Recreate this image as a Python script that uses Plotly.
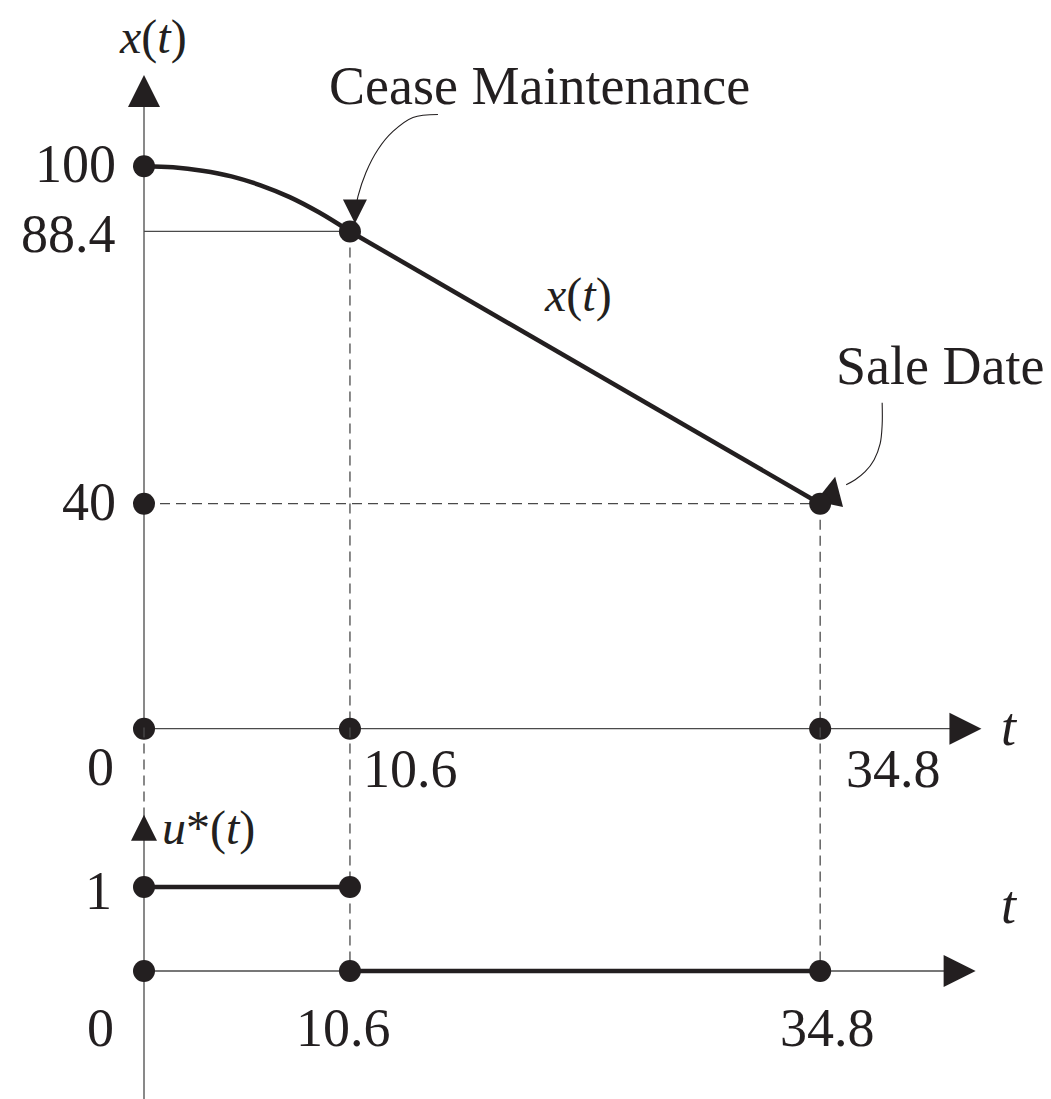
import plotly.graph_objects as go

# ------------------------------------------------------------------ data
T_STOP = 10.6          # cease maintenance
T_SALE = 34.8          # sale date
X0 = 100               # initial value
X_STOP = 88.4          # value when maintenance ceases
X_SALE = 40            # value at sale date

curve_t = [0, 1.5, 3, 4.5, 6, 7.5, 9, 10.6]
curve_x = [100, 99.8, 99.2, 98.2, 96.6, 94.5, 91.8, 88.4]
decline_t = [10.6, 34.8]
decline_x = [88.4, 40]

u_on_t = [0, 10.6]
u_on = [1, 1]
u_off_t = [10.6, 34.8]
u_off = [0, 0]

xdot_t = [0, 10.6, 34.8, 0, 0, 10.6, 34.8]
xdot_v = [100, 88.4, 40, 40, 0, 0, 0]
udot_t = [0, 10.6, 0, 10.6, 34.8]
udot_v = [1, 1, 0, 0, 0]

x_tick_vals = [100, 88.4, 40]
x_tick_text = ["100", "88.4", "40"]
t_tick_vals = [0, 10.6, 34.8]
t_tick_text = ["0", "10.6", "34.8"]
u_tick_vals = [1, 0]
u_tick_text = ["1", "0"]

# ------------------------------------------------------------------ geometry / style
W, H = 1051, 1099
PX_T = 19.43          # px per unit t
PX_X = 5.625          # px per unit x
PX_U = 84.0           # px per unit u
T0_PX = 144           # px of t = 0
X0_PX = 728.7         # px (from top) of x = 0
U0_PX = 971           # px (from top) of u = 0

T_AXIS_END = 43.1
T_AXIS2_END = 42.8
X_AXIS_TOP = 116.2
U_PANEL_TOP = 2.9
U_ARROW_TIP = 1.86
U_ARROW_BASE = 1.6
U_AXIS_BOTTOM = -1.7

INK = "#231f20"
AXC = "#4a4a4a"
FONT = "Liberation Serif"
FS = 54


def dt(px):
    return px / PX_T


def dx(py):
    return -py / PX_X


fig = go.Figure()


def line(x, y, yaxis="y", width=1.3, color=AXC, dash=None, shape="linear"):
    fig.add_trace(go.Scatter(x=x, y=y, yaxis=yaxis, mode="lines",
                             line=dict(width=width, color=color, dash=dash, shape=shape),
                             hoverinfo="skip", showlegend=False))


def marks(x, y, yaxis="y", symbol="circle", size=22, angle=0):
    fig.add_trace(go.Scatter(x=x, y=y, yaxis=yaxis, mode="markers",
                             marker=dict(symbol=symbol, size=size, color=INK, angle=angle,
                                         line=dict(width=0)),
                             hoverinfo="skip", showlegend=False))


# --- top panel axes
line([0, 0], [X_AXIS_TOP - 3, 0])
line([0, T_AXIS_END - 1], [0, 0])
marks([0], [X_AXIS_TOP], symbol="arrow-up", size=32)
marks([T_AXIS_END], [0], symbol="arrow-right", size=32)

# guide lines
line([0, T_STOP], [X_STOP, X_STOP])
line([0, T_SALE], [X_SALE, X_SALE], dash="10px,6px")
line([T_STOP, T_STOP], [X_STOP, 0], dash="10px,6px")
line([T_SALE, T_SALE], [X_SALE, 0], dash="10px,6px")
line([T_STOP, T_STOP], [U_PANEL_TOP, 0], yaxis="y2", dash="10px,6px")
line([T_SALE, T_SALE], [U_PANEL_TOP, 0], yaxis="y2", dash="10px,6px")

# bottom panel axes
line([0, 0], [U_PANEL_TOP, U_ARROW_BASE], yaxis="y2", dash="10px,6px")
line([0, 0], [U_ARROW_BASE, U_AXIS_BOTTOM], yaxis="y2")
line([0, T_AXIS2_END - 1], [0, 0], yaxis="y2")
marks([0], [U_ARROW_TIP], yaxis="y2", symbol="arrow-up", size=26)
marks([T_AXIS2_END], [0], yaxis="y2", symbol="arrow-right", size=32)

# main curves
line(curve_t, curve_x, width=4.5, color=INK, shape="spline")
line(decline_t, decline_x, width=4.5, color=INK)
line(u_on_t, u_on, yaxis="y2", width=4.5, color=INK)
line(u_off_t, u_off, yaxis="y2", width=4.5, color=INK)

# pointer arrows (pixel offsets from the target dot)
cease_off = [(88, -117), (63, -114), (43, -100), (28, -82), (16, -59), (8, -35), (6, -24)]
line([T_STOP + dt(a) for a, b in cease_off], [X_STOP + dx(b) for a, b in cease_off],
     width=1.1, color=INK, shape="spline")
marks([T_STOP + dt(5)], [X_STOP + dx(-8)], symbol="arrow-down", size=24)

sale_off = [(62, -101), (62, -79), (60, -60), (54, -44), (45, -32), (35, -24), (26, -19)]
line([T_SALE + dt(a) for a, b in sale_off], [X_SALE + dx(b) for a, b in sale_off],
     width=1.1, color=INK, shape="spline")
marks([T_SALE + dt(15)], [X_SALE + dx(-27)], symbol="arrow-up", size=28, angle=12)

# dots
marks(xdot_t, xdot_v)
marks(udot_t, udot_v, yaxis="y2")

# ------------------------------------------------------------------ text
ann = []


def text(x, y, s, yref="y", xanchor="center", yanchor="middle", xshift=0, yshift=0, size=FS):
    ann.append(dict(x=x, y=y, xref="x", yref=yref, text=s, showarrow=False,
                    xanchor=xanchor, yanchor=yanchor, xshift=xshift, yshift=yshift,
                    font=dict(family=FONT, size=size, color=INK)))


for v, s in zip(x_tick_vals, x_tick_text):
    text(0, v, s, xanchor="right", xshift=-26, yshift=-3 if v == X_STOP else 2)
text(0, 0, t_tick_text[0], xanchor="right", xshift=-28, yshift=-38)
text(T_STOP, 0, t_tick_text[1], xanchor="left", xshift=11, yshift=-40)
text(T_SALE, 0, t_tick_text[2], xanchor="left", xshift=24, yshift=-40)
text(T_AXIS_END, 0, "<i>t</i>", xanchor="center", xshift=28, yshift=2)

text(0, u_tick_vals[0], u_tick_text[0], yref="y2", xanchor="right", xshift=-30, yshift=-4)
text(0, u_tick_vals[1], u_tick_text[1], yref="y2", xanchor="right", xshift=-28, yshift=-57)
text(T_STOP, 0, t_tick_text[1], yref="y2", xanchor="center", xshift=-6, yshift=-57)
text(T_SALE, 0, t_tick_text[2], yref="y2", xanchor="center", xshift=7, yshift=-57)
text(T_AXIS2_END, 0, "<i>t</i>", yref="y2", xanchor="center", xshift=34, yshift=66)

text(0, X_AXIS_TOP, "<i>x</i>(<i>t</i>)", xshift=9, yshift=38, size=48)
text(0, U_ARROW_TIP, "<i>u</i>*(<i>t</i>)", yref="y2", xanchor="left", xshift=16, yshift=-13, size=48)
text(T_STOP, X_STOP, "<i>x</i>(<i>t</i>)", xshift=228, yshift=-64, size=48)
text(T_STOP, X_STOP, "Cease Maintenance", xshift=190, yshift=145)
text(T_SALE, X_SALE, "Sale Date", xanchor="right", xshift=226, yshift=138)

fig.update_layout(
    width=W, height=H,
    margin=dict(l=0, r=0, t=0, b=0),
    paper_bgcolor="white", plot_bgcolor="white",
    xaxis=dict(range=[-T0_PX / PX_T, (W - T0_PX) / PX_T], visible=False, fixedrange=True),
    yaxis=dict(range=[-(H - X0_PX) / PX_X, X0_PX / PX_X], visible=False, fixedrange=True),
    yaxis2=dict(range=[-(H - U0_PX) / PX_U, U0_PX / PX_U], visible=False, overlaying="y",
                fixedrange=True),
    annotations=ann,
    showlegend=False,
)

fig.write_html("out.html", config={"displayModeBar": False},
               post_script="document.body.style.margin='0';")
